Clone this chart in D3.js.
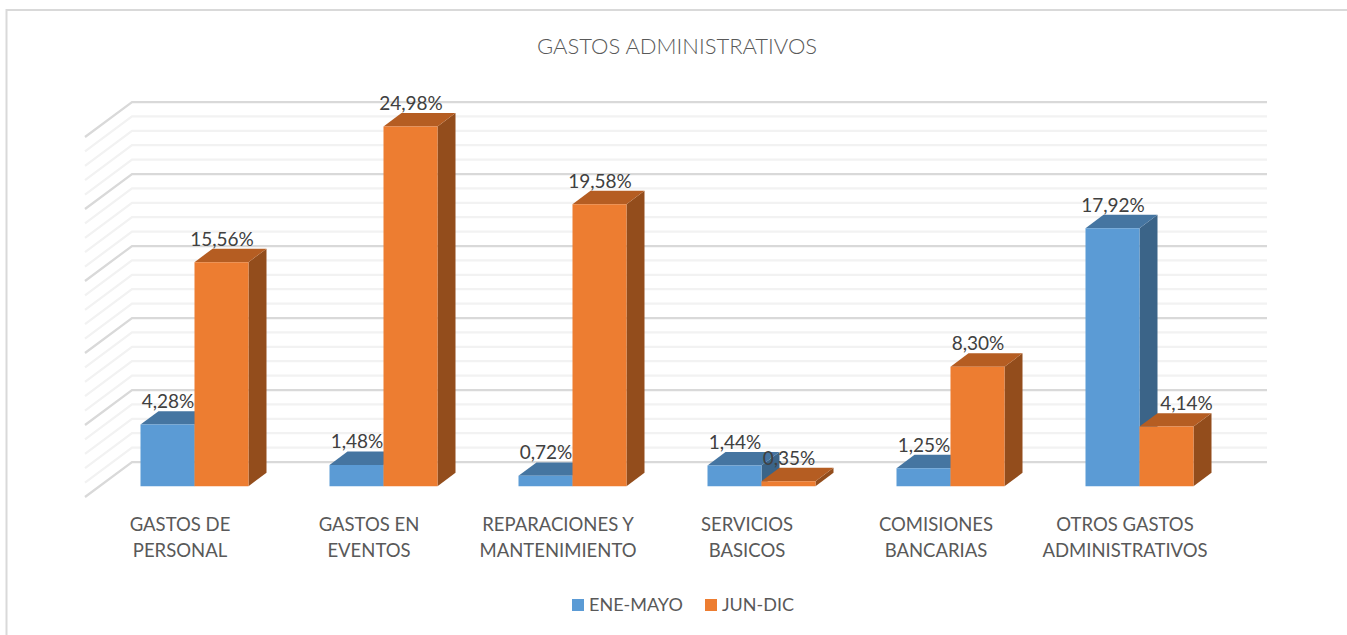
<!DOCTYPE html>
<html lang="en">
<head>
    <meta charset="UTF-8">
    <title>Gastos administrativos</title>
    <script src="https://d3js.org/d3.v7.min.js"></script>
    <style>
        body { margin: 0; background: #fff; }
        svg { display: block; font-family: Lato, 'Open Sans', sans-serif; }
    </style>
</head>
<body>
    <svg width="1347" height="635"></svg>

    <script>
        const categories = [
            ["GASTOS DE", "PERSONAL"],
            ["GASTOS EN", "EVENTOS"],
            ["REPARACIONES Y", "MANTENIMIENTO"],
            ["SERVICIOS", "BASICOS"],
            ["COMISIONES", "BANCARIAS"],
            ["OTROS GASTOS", "ADMINISTRATIVOS"]
        ];
        const seriesNames = ["ENE-MAYO", "JUN-DIC"];
        const eneMayo = [4.28, 1.48, 0.72, 1.44, 1.25, 17.92];
        const junDic = [15.56, 24.98, 19.58, 0.35, 8.30, 4.14];
        const gridValues = d3.range(0, 26);

        const svg = d3.select("svg");

        // Oblique 3D: depth 0 is the back wall, depth 1 the front of the floor
        const depthX = d3.scaleLinear().domain([0, 1]).range([0, -47]);
        const depthY = d3.scaleLinear().domain([0, 1]).range([0, 35]);
        const y = d3.scaleLinear().domain([0, 25]).range([462, 102]);
        const xGroup = d3.scaleBand()
            .domain(d3.range(categories.length))
            .range([132.5, 1266.5])
            .paddingInner(81 / 189)
            .paddingOuter(81 / 189 / 2);
        const xSeries = d3.scaleBand().domain([0, 1]).range([0, xGroup.bandwidth()]);
        const barDepth = [0.5 - 18 / 47 / 2, 0.5 + 18 / 47 / 2];  // back, front

        const palette = [
            { front: "#5b9bd5", top: "#4575a1", side: "#3b6488" },
            { front: "#ed7d31", top: "#b55d22", side: "#934d1c" }
        ];

        const project = (px, value, z) => [px + depthX(z), y(value) + depthY(z)];

        // chart frame, only the top and left edges fall inside the picture
        svg.append("rect")
            .attr("x", 6.5).attr("y", 10)
            .attr("width", 1400).attr("height", 700)
            .attr("fill", "#fff")
            .attr("stroke", "#d9d9d9")
            .attr("stroke-width", 2);

        svg.append("text")
            .attr("x", 677).attr("y", 54)
            .attr("text-anchor", "middle")
            .attr("font-size", 22)
            .attr("font-weight", 300)
            .attr("fill", "#595959")
            .text("GASTOS ADMINISTRATIVOS");

        // gridlines: floor edge + back wall
        const line = d3.line();
        svg.append("g").selectAll("path")
            .data(gridValues)
            .join("path")
            .attr("d", v => line([project(132, v, 1), project(132, v, 0), project(1267, v, 0)]))
            .attr("fill", "none")
            .attr("stroke", v => v % 5 === 0 ? "#d9d9d9" : "#f2f2f2")
            .attr("stroke-width", 2.25);

        // bars
        const bars = [];
        categories.forEach((c, i) => {
            [eneMayo[i], junDic[i]].forEach((value, s) => {
                bars.push({ i, s, value, x0: xGroup(i) + xSeries(s), w: xSeries.bandwidth() });
            });
        });

        const bar = svg.append("g").selectAll("g")
            .data(bars)
            .join("g");

        const [zb, zf] = barDepth;
        bar.append("path")
            .attr("fill", d => palette[d.s].side)
            .attr("d", d => line([
                project(d.x0 + d.w, 0, zf), project(d.x0 + d.w, d.value, zf),
                project(d.x0 + d.w, d.value, zb), project(d.x0 + d.w, 0, zb)
            ]) + "Z");
        bar.append("path")
            .attr("fill", d => palette[d.s].top)
            .attr("d", d => line([
                project(d.x0, d.value, zf), project(d.x0 + d.w, d.value, zf),
                project(d.x0 + d.w, d.value, zb), project(d.x0, d.value, zb)
            ]) + "Z");
        bar.append("path")
            .attr("fill", d => palette[d.s].front)
            .attr("d", d => line([
                project(d.x0, 0, zf), project(d.x0 + d.w, 0, zf),
                project(d.x0 + d.w, d.value, zf), project(d.x0, d.value, zf)
            ]) + "Z");

        // data labels, the last orange one sits off to the right of the blue bar
        svg.append("g").selectAll("text")
            .data(bars)
            .join("text")
            .attr("x", d => project(d.x0 + d.w / 2, d.value, zf)[0] + (d.i === 5 && d.s === 1 ? 20 : 0.5))
            .attr("y", d => project(d.x0 + d.w / 2, d.value, zb)[1] - 3)
            .attr("text-anchor", "middle")
            .attr("font-size", 19)
            .attr("fill", "#404040")
            .text(d => d.value.toFixed(2).replace(".", ",") + "%");

        // category labels
        const catLabel = svg.append("g").selectAll("text")
            .data(categories)
            .join("text")
            .attr("text-anchor", "middle")
            .attr("font-size", 18.5)
            .attr("fill", "#595959")
            .attr("transform", (c, i) => `translate(${project(xGroup(i) + xGroup.bandwidth() / 2, 0, 1)[0]},531)`);
        catLabel.selectAll("tspan")
            .data(c => c)
            .join("tspan")
            .attr("x", 0)
            .attr("dy", (t, j) => j === 0 ? 0 : 26)
            .text(t => t);

        // legend
        const legendX = [572, 705];
        const legend = svg.append("g").selectAll("g")
            .data(seriesNames)
            .join("g")
            .attr("transform", (d, i) => `translate(${legendX[i]},599)`);
        legend.append("rect")
            .attr("width", 12).attr("height", 12)
            .attr("fill", (d, i) => palette[i].front);
        legend.append("text")
            .attr("x", 17).attr("y", 12)
            .attr("font-size", 18)
            .attr("fill", "#595959")
            .text(d => d);
    </script>
</body>
</html>
